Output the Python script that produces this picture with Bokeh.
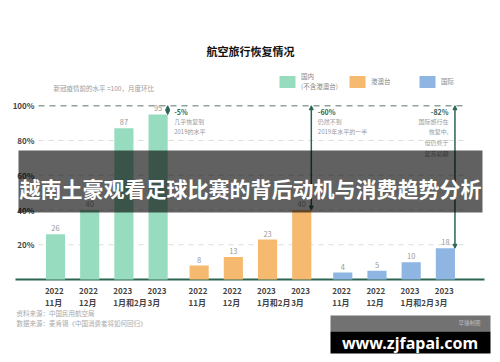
from bokeh.plotting import figure
from bokeh.models import (Range1d, Arrow, NormalHead, BoxAnnotation, Legend,
                          LegendItem, Label)
from bokeh.core.properties import value
from bokeh.embed import file_html
from bokeh.resources import INLINE

# ---------------- data ----------------
groups = ["国内\n(不含港澳台)", "港澳台", "国际"]
periods = ["2022\n11月", "2022\n12月", "2023\n1月和2月", "2023\n3月"]
domestic = [26, 40, 87, 95]
hk_macau_tw = [8, 13, 23, 40]
international = [4, 5, 10, 18]
series = [domestic, hk_macau_tw, international]
changes = ["-5%", "-60%", "-82%"]
notes = ["几乎恢复到\n2019的水平", "仍然不到\n2019年水平的一半",
         "国际旅行在\n恢复中,\n但仍处于\n复苏初期"]
baseline_level = 100
y_ticks = [20, 40, 60, 80, 100]
title = "航空旅行恢复情况"
subtitle = "新冠疫情前的水平 =100，月度环比"
sources = ["资料来源：中国民用航空局", "数据来源：麦肯锡《中国消费者将如何回归》"]
headline = "越南土豪观看足球比赛的背后动机与消费趋势分析"
watermark = "www.zjfapai.com"
watermark_small = "早播制图"

# ---------------- style ----------------
colors = ["#98dcc0", "#f5b970", "#8fb5e2"]
FONT = value("Noto Sans CJK SC")
DARK_GREEN = "#2c6452"
GROUP_STRIDE = 4.2
BAR_W = 0.56

# page-pixel helpers for decoration placement
SLOT, X0PX, YPX, Y0PX = 34.2, 55.0, 1.7375, 279.0
W, H = 500, 362
def X(px):
    return (px - X0PX) / SLOT
def Y(py):
    return (Y0PX - py) / YPX

p = figure(width=W, height=H,
           x_range=Range1d(X(0), X(W)), y_range=Range1d(Y(H), Y(0)),
           x_axis_location=None, y_axis_location=None,
           output_backend="svg", toolbar_location=None,
           min_border=0, outline_line_color=None)
p.grid.visible = False
p.background_fill_color = "white"

# grid lines
light = [t for t in y_ticks if t != baseline_level]
p.segment(x0=X(38), x1=X(467), y0=light, y1=light, line_color="#dddddd",
          line_width=1, line_dash="5 5")
p.segment(x0=X(38), x1=X(467), y0=[baseline_level], y1=[baseline_level],
          line_color="#8fa39a", line_width=1.5, line_dash="6 5")
p.segment(x0=X(15), x1=X(484), y0=[0], y1=[0], line_color=DARK_GREEN, line_width=2)

# y tick labels
p.text(x=[X(34)] * len(y_ticks), y=y_ticks, text=[f"{t}%" for t in y_ticks],
       text_align="right", text_baseline="middle", text_font=FONT,
       text_font_size="8px", text_font_style="bold", text_color="#444444")

legend_items = []
for g, vals in enumerate(series):
    xs = [g * GROUP_STRIDE + i for i in range(len(vals))]
    r = p.vbar(x=xs, top=vals, width=BAR_W, fill_color=colors[g], line_color=None)
    legend_items.append(LegendItem(label=groups[g], renderers=[r]))
    p.text(x=xs, y=vals, text=[str(v) for v in vals], y_offset=-3,
           text_align="center", text_baseline="bottom", text_font=FONT,
           text_font_size="7.5px", text_color="#999999")
    p.text(x=[x - BAR_W / 2 - 0.03 for x in xs], y=[0] * len(xs), text=periods,
           y_offset=5, text_align="left", text_baseline="top", text_font=FONT,
           text_font_size="8px", text_font_style="bold", text_color="#444444",
           text_line_height=1.15)
    # arrow from last value to pre-pandemic level
    ax = xs[-1] + BAR_W / 2
    p.add_layout(Arrow(start=NormalHead(size=4, fill_color=DARK_GREEN, line_color=DARK_GREEN),
                       end=NormalHead(size=4, fill_color=DARK_GREEN, line_color=DARK_GREEN),
                       x_start=ax, y_start=baseline_level, x_end=ax, y_end=vals[-1],
                       line_color=DARK_GREEN, line_width=1.5))
    right_side = g == len(series) - 1
    tx = ax - 6.5 / SLOT if right_side else ax + 6.5 / SLOT
    align = "right" if right_side else "left"
    p.text(x=[tx], y=[Y(111)], text=[changes[g]], text_align=align,
           text_baseline="middle", text_font=FONT, text_font_size="7px",
           text_font_style="bold", text_color=DARK_GREEN)
    p.text(x=[tx], y=[Y(116)], text=[notes[g]], text_align=align,
           text_baseline="top", text_font=FONT, text_font_size="6px",
           text_color="#999999", text_line_height=1.2)

legend = Legend(items=legend_items, location=(277, H - 91), orientation="horizontal",
                glyph_width=20, glyph_height=15, label_width=46, label_height=15,
                label_standoff=4, spacing=0, padding=0, margin=0,
                border_line_color=None, background_fill_alpha=0,
                label_text_font="Noto Sans CJK SC", label_text_font_size="6.5px",
                label_text_color="#888888")
p.add_layout(legend)

# titles
p.text(x=[X(250)], y=[Y(50)], text=[title], text_align="center", text_baseline="middle",
       text_font=FONT, text_font_size="11px", text_font_style="bold", text_color="#111111")
p.text(x=[X(53)], y=[Y(87)], text=[subtitle], text_align="left", text_baseline="middle",
       text_font=FONT, text_font_size="6.5px", text_color="#999999")
p.text(x=[X(16), X(16)], y=[Y(312.5), Y(322.5)], text=sources, text_align="left",
       text_baseline="middle", text_font=FONT, text_font_size="6.5px",
       text_color="#aaaaaa")

# headline overlay band
p.add_layout(BoxAnnotation(left=X(18), right=X(482), top=Y(150), bottom=Y(212),
                           fill_color="black", fill_alpha=0.62, line_color=None))
p.add_layout(Label(x=X(250), y=Y(187), text=headline, text_align="center",
                   text_baseline="middle", text_font="Noto Sans CJK SC",
                   text_font_size="21px", text_font_style="bold", text_color="white"))

# watermark
p.add_layout(BoxAnnotation(left=X(330), right=X(490), top=Y(315), bottom=Y(331),
                           fill_color="#727272", fill_alpha=1, line_color=None))
p.add_layout(BoxAnnotation(left=X(330), right=X(490), top=Y(331), bottom=Y(353),
                           fill_color="black", fill_alpha=1, line_color=None))
p.add_layout(Label(x=X(480), y=Y(322.5), text=watermark_small, text_align="right",
                   text_baseline="middle", text_font="Noto Sans CJK SC",
                   text_font_size="5.5px", text_color="#bbbbbb"))
p.add_layout(Label(x=X(409.5), y=Y(342), text=watermark, text_align="center",
                   text_baseline="middle", text_font="Noto Sans",
                   text_font_size="16px", text_font_style="bold", text_color="white"))

open("out.html", "w").write(file_html(p, INLINE))
